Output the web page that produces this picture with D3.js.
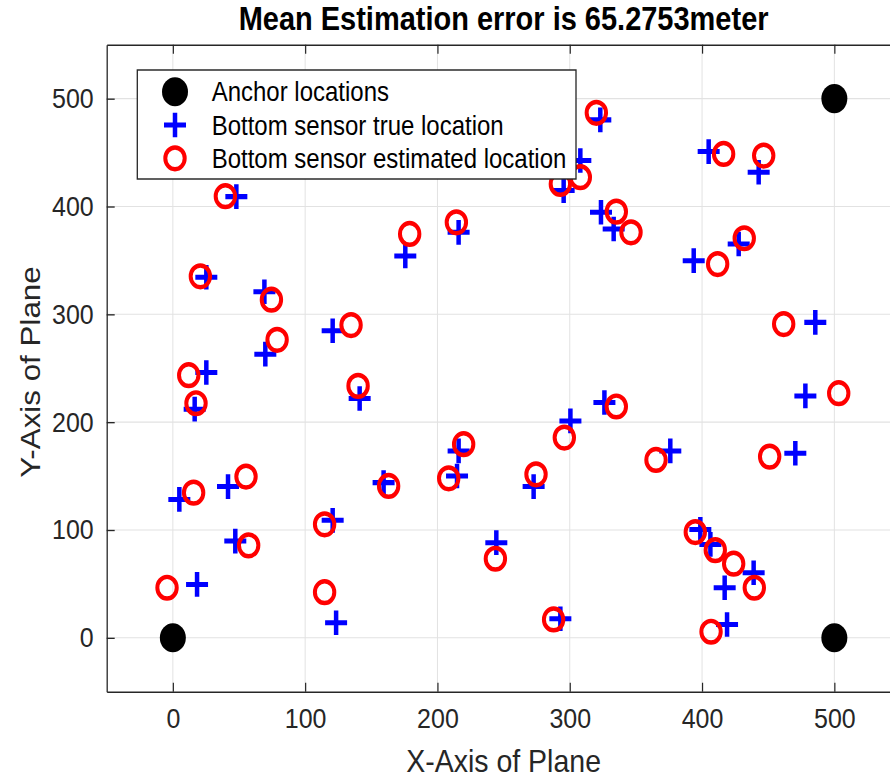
<!DOCTYPE html>
<html>
<head>
<meta charset="utf-8">
<script src="https://cdn.jsdelivr.net/npm/d3@7"></script>
<style>
  html, body { margin: 0; padding: 0; background: #fff; }
  svg { display: block; }
  text { font-family: "Liberation Sans", Arial, Helvetica, sans-serif; fill: #262626; }
</style>
</head>
<body>
<svg id="chart"></svg>
<script>
// Anchor nodes (corners of the field)
const anchorX = [0, 500, 500, 0];
const anchorY = [0, 0, 500, 500];

// True positions of the bottom sensors
const trueX = [18.3, 4.9, 41.7, 47.2, 120.8, 123.4, 159.3, 214.8, 272.7, 244.5, 292.9,
  398.7, 406.3, 439, 417.1, 418.9, 393.7, 485.6, 478.1, 326.2, 300.5, 216, 376, 470.5,
  25.3, 69.2, 69.9, 120.8, 25.3, 16.5, 141.2, 48, 323.1, 405, 442.8, 323.6, 333.2,
  427.7, 175.7, 216, 308, 295.4];
const trueY = [49.5, 128.3, 140.2, 89.7, 108.9, 13.9, 143.9, 150, 140.2, 88.2, 17.6,
  100.5, 86.6, 60.3, 46.4, 12.3, 349.7, 292.5, 224.3, 218.2, 201.1, 173.3, 173.3, 171.1,
  334.3, 320.9, 263, 284.7, 246, 212, 221.9, 409.1, 480.3, 450.9, 431.7, 394.6, 379.1,
  365.2, 354, 376, 442.6, 414.7];

// Estimated positions of the bottom sensors
const estX = [-4.4, 15.7, 55.3, 57.3, 114.7, 114.7, 163.1, 208.5, 274.5, 243.8, 287.8,
  394.9, 410, 423.9, 439.5, 406.8, 411.8, 461.7, 503.3, 335.2, 295.9, 219.8, 365.2, 451.1,
  20.8, 74.5, 78.8, 134.7, 12, 17.5, 140, 39.7, 320.1, 416.3, 446.6, 335.2, 346.3,
  431.9, 179, 214.3, 308, 292.9];
const estY = [46.4, 134.6, 149.5, 85.7, 105.2, 42.3, 140.8, 147.9, 151.6, 73.3, 17,
  98, 81.3, 68.7, 46.4, 5.6, 346.6, 290.9, 226.8, 214.5, 185.7, 179.5, 164.9, 168,
  335.2, 313.5, 276.3, 290, 243.5, 217.5, 233.6, 409.5, 486.8, 448.7, 447.2, 395.2, 376,
  370.5, 374.5, 385.3, 427.1, 420.9];

const xTicks = [0, 100, 200, 300, 400, 500];
const yTicks = [0, 100, 200, 300, 400, 500];
const legendLabels = ["Anchor locations", "Bottom sensor true location", "Bottom sensor estimated location"];
const titleText = "Mean Estimation error is 65.2753meter";

// Figure is drawn in a frame that is stretched vertically on output
const SY = 1.12;
const W = 890, H = 782 / SY;

const svg = d3.select("#chart")
  .attr("width", 890).attr("height", 782)
  .attr("viewBox", `0 0 ${W} ${H}`)
  .attr("preserveAspectRatio", "none");

const pLeft = 106.7, pRight = 900.5, pTop = 44.7 / SY, pBottom = 691.7 / SY;
const x = d3.scaleLinear().domain([-50, 550]).range([pLeft, pRight]);
const y = d3.scaleLinear().domain([-50, 550]).range([pBottom, pTop]);

svg.append("rect").attr("x", pLeft).attr("y", pTop)
  .attr("width", pRight - pLeft).attr("height", pBottom - pTop).attr("fill", "#fff");

// grid
const grid = svg.append("g").attr("stroke", "#e2e2e2").attr("stroke-width", 1);
grid.selectAll("line.gx").data(xTicks).join("line").attr("class", "gx")
  .attr("x1", d => x(d)).attr("x2", d => x(d)).attr("y1", pTop).attr("y2", pBottom);
grid.selectAll("line.gy").data(yTicks).join("line").attr("class", "gy")
  .attr("x1", pLeft).attr("x2", pRight).attr("y1", d => y(d)).attr("y2", d => y(d));

// clip for data marks
svg.append("clipPath").attr("id", "plotclip").append("rect")
  .attr("x", pLeft).attr("y", pTop).attr("width", pRight - pLeft).attr("height", pBottom - pTop);
const plot = svg.append("g").attr("clip-path", "url(#plotclip)");

const crossPath = "M-11,0H11M0,-11V11";

// anchors
plot.selectAll("circle.anchor").data(anchorX).join("circle")
  .attr("class", "anchor")
  .attr("cx", d => x(d)).attr("cy", (d, i) => y(anchorY[i]))
  .attr("r", 13).attr("fill", "#000");

// true sensor positions
plot.selectAll("path.truth").data(trueX).join("path")
  .attr("class", "truth")
  .attr("transform", (d, i) => `translate(${x(d)},${y(trueY[i])})`)
  .attr("d", crossPath).attr("stroke", "#0000ff").attr("stroke-width", 4.5).attr("fill", "none");

// estimated sensor positions
plot.selectAll("circle.est").data(estX).join("circle")
  .attr("class", "est")
  .attr("cx", d => x(d)).attr("cy", (d, i) => y(estY[i]))
  .attr("r", 9.7).attr("fill", "none").attr("stroke", "#ff0000").attr("stroke-width", 4);

// axes
const axisColor = "#262626";
function styleAxis(g, showLabels) {
  g.select(".domain").attr("stroke", axisColor).attr("stroke-width", 1.3);
  g.selectAll(".tick line").attr("stroke", axisColor).attr("stroke-width", 1.2);
  g.selectAll(".tick text").attr("fill", axisColor).attr("font-size", 25)
    .attr("font-family", "'Liberation Sans', Arial, sans-serif")
    .style("display", showLabels ? null : "none");
}
svg.append("g").attr("transform", `translate(0,${pBottom})`)
  .call(d3.axisBottom(x).tickValues(xTicks).tickSizeInner(-8).tickSizeOuter(0).tickPadding(15))
  .call(g => styleAxis(g, true));
svg.append("g").attr("transform", `translate(0,${pTop})`)
  .call(d3.axisTop(x).tickValues(xTicks).tickSizeInner(-8).tickSizeOuter(0))
  .call(g => styleAxis(g, false));
svg.append("g").attr("transform", `translate(${pLeft},0)`)
  .call(d3.axisLeft(y).tickValues(yTicks).tickSizeInner(-8).tickSizeOuter(0).tickPadding(13))
  .call(g => styleAxis(g, true));
svg.append("g").attr("transform", `translate(${pRight},0)`)
  .call(d3.axisRight(y).tickValues(yTicks).tickSizeInner(-8).tickSizeOuter(0))
  .call(g => styleAxis(g, false));

// title and axis labels
svg.append("text").attr("x", (pLeft + pRight) / 2).attr("y", 27.2)
  .attr("text-anchor", "middle").attr("font-size", 29).attr("font-weight", "bold")
  .style("fill", "#000").text(titleText);
svg.append("text").attr("x", (pLeft + pRight) / 2).attr("y", 772 / SY)
  .attr("text-anchor", "middle").attr("font-size", 28.5).text("X-Axis of Plane");
svg.append("text")
  .attr("transform", `translate(40,${372 / SY}) rotate(-90)`)
  .attr("text-anchor", "middle").attr("font-size", 28).text("Y-Axis of Plane");

// legend
const lg = svg.append("g");
const lgLeft = 137.3, lgRight = 576, lgTop = 70 / SY, lgBottom = 179 / SY;
lg.append("rect").attr("x", lgLeft).attr("y", lgTop)
  .attr("width", lgRight - lgLeft).attr("height", lgBottom - lgTop)
  .attr("fill", "#fff").attr("stroke", axisColor).attr("stroke-width", 1.3);
const rowY = [91.7 / SY, 125 / SY, 158.3 / SY];
const mx = 175;
lg.append("circle").attr("cx", mx).attr("cy", rowY[0]).attr("r", 13).attr("fill", "#000");
lg.append("path").attr("transform", `translate(${mx},${rowY[1]})`).attr("d", crossPath)
  .attr("stroke", "#0000ff").attr("stroke-width", 4.5).attr("fill", "none");
lg.append("circle").attr("cx", mx).attr("cy", rowY[2]).attr("r", 9.7)
  .attr("fill", "none").attr("stroke", "#ff0000").attr("stroke-width", 4);
lg.selectAll("text").data(legendLabels).join("text")
  .attr("x", 211.7).attr("y", (d, i) => rowY[i]).attr("dy", "0.36em")
  .attr("font-size", 24).style("fill", "#000").text(d => d);
</script>
</body>
</html>
